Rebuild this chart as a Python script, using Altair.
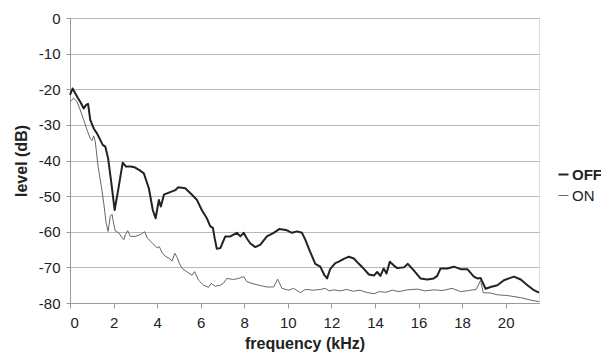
import altair as alt
import pandas as pd

off_freq = [0.0, 0.12, 0.24, 0.37, 0.47, 0.63, 0.74, 0.83, 0.93, 1.09, 1.24, 1.39, 1.50, 1.62, 1.75,
            1.90, 2.05, 2.21, 2.42, 2.57, 2.77, 2.97, 3.19, 3.39, 3.62, 3.80, 3.93, 4.08, 4.17, 4.31,
            4.54, 4.84, 4.97, 5.29, 5.60, 5.82, 6.05, 6.28, 6.44, 6.56, 6.64, 6.74, 6.90, 7.13, 7.36,
            7.51, 7.66, 7.82, 7.97, 8.12, 8.28, 8.51, 8.74, 9.04, 9.35, 9.62, 9.96, 10.19, 10.42, 10.65,
            10.80, 11.03, 11.26, 11.49, 11.68, 11.80, 11.95, 12.18, 12.34, 12.57, 12.80, 13.03, 13.26,
            13.49, 13.72, 13.95, 14.10, 14.25, 14.40, 14.53, 14.68, 14.87, 15.02, 15.33, 15.51, 15.79,
            16.09, 16.40, 16.70, 16.86, 17.01, 17.32, 17.62, 17.93, 18.24, 18.54, 18.70, 18.85, 19.08,
            19.31, 19.62, 19.92, 20.38, 20.69, 21.00, 21.30, 21.53]
off_db = [-21.6, -19.8, -21.1, -22.5, -23.5, -25.4, -24.4, -24.1, -28.6, -31.0, -32.4, -34.2, -35.6, -36.1, -39.4,
          -46.4, -53.9, -48.3, -40.6, -41.7, -41.7, -41.9, -42.7, -43.6, -47.8, -53.9, -56.2, -51.1, -52.9, -49.6,
          -49.0, -48.3, -47.5, -47.8, -49.6, -51.0, -53.9, -56.2, -58.5, -58.9, -61.8, -64.8, -64.6, -61.3, -61.3,
          -60.8, -60.3, -61.3, -60.3, -61.9, -63.3, -64.3, -63.6, -61.3, -60.3, -59.2, -59.6, -60.3, -59.9, -60.3,
          -62.2, -65.7, -69.0, -69.8, -72.2, -73.1, -70.4, -68.8, -68.4, -67.6, -67.0, -67.5, -69.0,
          -70.4, -72.0, -72.3, -71.3, -72.4, -70.3, -71.7, -68.4, -69.5, -70.2, -70.0, -69.0, -70.9,
          -73.1, -73.4, -73.1, -72.4, -70.3, -70.3, -69.8, -70.5, -70.5, -72.6, -73.1, -73.0, -76.0,
          -75.5, -75.0, -73.6, -72.6, -73.4, -75.0, -76.4, -77.1]

on_freq = [0.0, 0.17, 0.32, 0.47, 0.63, 0.78, 0.93, 1.01, 1.09, 1.16, 1.29, 1.44, 1.55, 1.66, 1.75,
           1.85, 1.93, 2.01, 2.08, 2.24, 2.39, 2.48, 2.54, 2.65, 2.77, 3.00, 3.23, 3.43, 3.54, 3.77,
           4.00, 4.10, 4.23, 4.38, 4.54, 4.69, 4.81, 4.92, 5.03, 5.15, 5.36, 5.60, 5.72, 5.90, 6.13,
           6.36, 6.48, 6.67, 6.90, 7.05, 7.20, 7.51, 7.74, 7.97, 8.12, 8.35, 8.66, 9.04, 9.35, 9.53,
           9.73, 10.04, 10.27, 10.57, 10.80, 11.19, 11.49, 11.72, 11.90, 12.10, 12.40, 12.70, 13.00,
           13.30, 13.60, 13.95, 14.20, 14.50, 14.80, 15.10, 15.50, 15.94, 16.30, 16.70, 17.10, 17.54,
           17.93, 18.30, 18.65, 18.85, 18.97, 19.31, 19.62, 20.08, 20.69, 21.15, 21.53]
on_db = [-23.5, -22.5, -23.5, -25.8, -28.6, -31.4, -33.8, -34.4, -33.1, -34.7, -41.7, -47.3, -52.0, -57.6, -59.9,
         -55.6, -55.1, -57.9, -59.8, -60.3, -61.7, -62.2, -60.8, -59.7, -61.3, -61.3, -60.8, -60.0, -61.7, -63.1,
         -64.5, -64.2, -65.9, -66.9, -67.4, -68.2, -66.0, -67.2, -69.0, -70.3, -71.2, -72.2, -71.2, -73.6, -75.0,
         -75.6, -74.5, -75.3, -75.0, -74.4, -73.1, -73.4, -73.1, -72.6, -74.0, -74.5, -75.0, -75.5, -75.5, -73.3,
         -75.9, -76.4, -75.9, -77.1, -76.2, -76.4, -76.2, -75.9, -76.6, -76.3, -76.6, -76.2, -76.7,
         -76.4, -77.0, -77.4, -76.8, -77.0, -76.4, -76.8, -76.3, -76.1, -76.6, -76.3, -76.5, -75.9,
         -76.8, -76.5, -76.2, -73.6, -77.1, -77.2, -77.7, -77.9, -78.5, -79.2, -79.6]

series_names = ["OFF", "ON"]
series_colors = ["#222222", "#666666"]
series_widths = [2.0, 1.0]
x_ticks = [0, 2, 4, 6, 8, 10, 12, 14, 16, 18, 20]
y_ticks = [0, -10, -20, -30, -40, -50, -60, -70, -80]

rows = []
for i, (f, d) in enumerate(zip(off_freq, off_db)):
    rows.append({"freq": f, "level": d, "series": "OFF", "order": i})
for i, (f, d) in enumerate(zip(on_freq, on_db)):
    rows.append({"freq": f, "level": d, "series": "ON", "order": i})
df = pd.DataFrame(rows)

FONT = "Liberation Sans"

chart = alt.Chart(df).mark_line(strokeJoin="round").encode(
    x=alt.X("freq:Q",
            scale=alt.Scale(domain=[0, 21.53], nice=False, zero=False),
            axis=alt.Axis(values=x_ticks, title="frequency (kHz)", grid=False,
                          tickSize=5, tickColor="#999999", domainColor="#999999",
                          labelFontSize=15, labelPadding=7, labelColor="#222222",
                          labelExpr="'' + datum.value",
                          titleFontSize=16, titleFontWeight="bold", titlePadding=5,
                          titleColor="#222222", labelFont=FONT, titleFont=FONT)),
    y=alt.Y("level:Q",
            scale=alt.Scale(domain=[-80, 0], nice=False),
            axis=alt.Axis(values=y_ticks, title="level (dB)", grid=True, gridColor="#b8b8b8",
                          gridWidth=1.2, tickSize=4, tickColor="#999999", domainColor="#999999",
                          labelFontSize=15, labelPadding=6, labelColor="#222222",
                          labelExpr="'' + datum.value",
                          titleFontSize=16, titleFontWeight="bold", titlePadding=9,
                          titleColor="#222222", labelFont=FONT, titleFont=FONT)),
    color=alt.Color("series:N",
                    scale=alt.Scale(domain=series_names, range=series_colors),
                    legend=alt.Legend(title=None, orient="none", legendX=486, legendY=149,
                                      symbolType="stroke", symbolSize=100, labelFontSize=15,
                                      labelFont=FONT, labelColor="#222222", rowPadding=5,
                                      labelOffset=1,
                                      labelFontWeight=alt.ExprRef("datum.label == 'OFF' ? 'bold' : 'normal'"))),
    strokeWidth=alt.StrokeWidth("series:N",
                                scale=alt.Scale(domain=series_names, range=series_widths),
                                legend=None),
    order="order:Q",
).properties(
    width=469, height=285,
    padding={"left": 62, "top": 10, "right": 62, "bottom": 49},
    autosize=alt.AutoSizeParams(type="none"),
).configure_view(stroke=None).configure(background="white")

chart.save("out.html", embed_options={"renderer": "svg", "actions": False})
